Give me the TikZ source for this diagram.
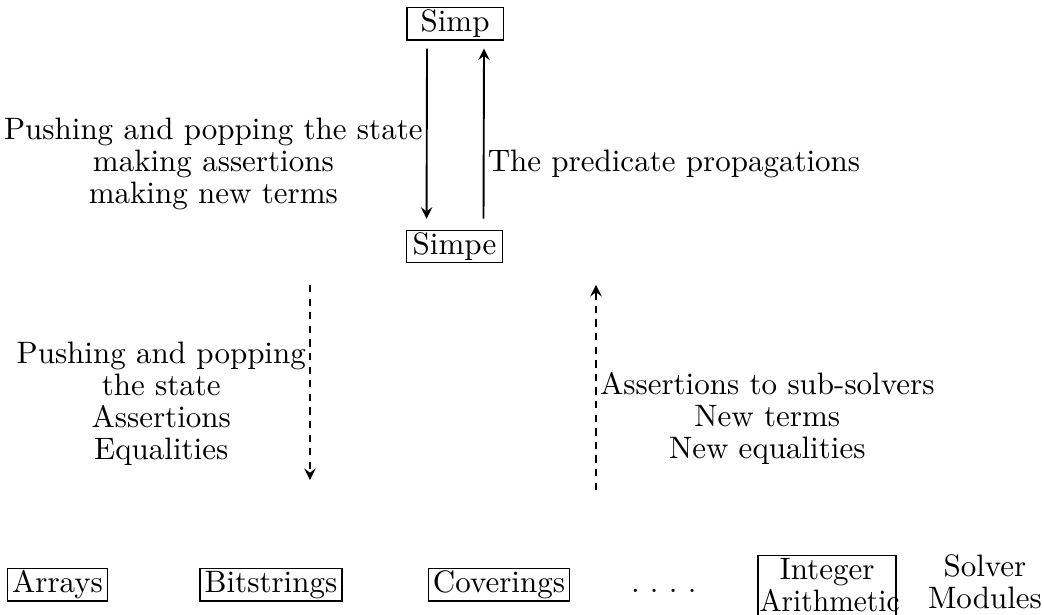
\documentclass[tikz,border=0pt]{standalone}
\usepackage{amsmath}
\usepackage{tikz}
\usetikzlibrary{shapes,arrows,positioning}

\begin{document}
\begin{tikzpicture}[>=stealth, font=\fontsize{9.8pt}{10.1pt}\selectfont,
    solver/.style={draw, rectangle, inner xsep=1.5pt, inner ysep=0.6pt, text height=7pt, text depth=2pt},
    simpbox/.style={solver, minimum width=1.07cm},
    lbl/.style={align=center, inner sep=1pt},
    flow/.style={->, semithick},
    dflow/.style={->, semithick, dash pattern=on 2.3pt off 2pt}]
    \useasboundingbox (0,0) rectangle (11.6,6.833);

    \node[simpbox] (simp) at (5.056,6.567) {Simp};
    \node[simpbox] (simpe) at (5.05,4.094) {Simpe};

    \draw[flow, shorten <=2.5pt, shorten >=3.5pt] ([xshift=-0.311cm]simp.south) -- ([xshift=-0.311cm]simpe.north)
        node[lbl, pos=0.65, left] {Pushing and popping the state\\making assertions\\making new terms};
    \draw[flow, shorten <=3.5pt, shorten >=2.5pt] ([xshift=0.322cm]simpe.north) -- ([xshift=0.322cm]simp.south)
        node[lbl, pos=0.35, right] {The predicate propagations};

    \coordinate (downtop) at (3.444,3.667);
    \coordinate (downbot) at (3.444,1.5);
    \coordinate (upbot) at (6.622,1.389);
    \coordinate (uptop) at (6.622,3.667);

    \draw[dflow] (downtop) -- (downbot)
        node[lbl, pos=0.61, left] {Pushing and popping\\the state\\Assertions\\Equalities};
    \draw[dflow] (upbot) -- (uptop)
        node[lbl, pos=0.35, right] {Assertions to sub-solvers\\New terms\\New equalities};

    % solver modules
    \node[solver] (arrays) at (0.639,0.333) {Arrays};
    \node[solver] (bitstrings) at (3.011,0.333) {Bitstrings};
    \node[solver] (coverings) at (5.544,0.333) {Coverings};
    \node[anchor=base west] (dots) at ([xshift=0.55cm]coverings.base east) {.\ .\ .\ .};
    \node[draw, anchor=north, text width=1.498cm, align=center, inner xsep=0.5pt, inner ysep=1pt,
        text depth=0.4cm] (intarith) at (9.189,0.667) {Integer\\\scalebox{0.95}[1]{Arithmetic}};
    \node[lbl] (modules) at (10.944,0.372) {Solver\\Modules};
\end{tikzpicture}
\end{document}
